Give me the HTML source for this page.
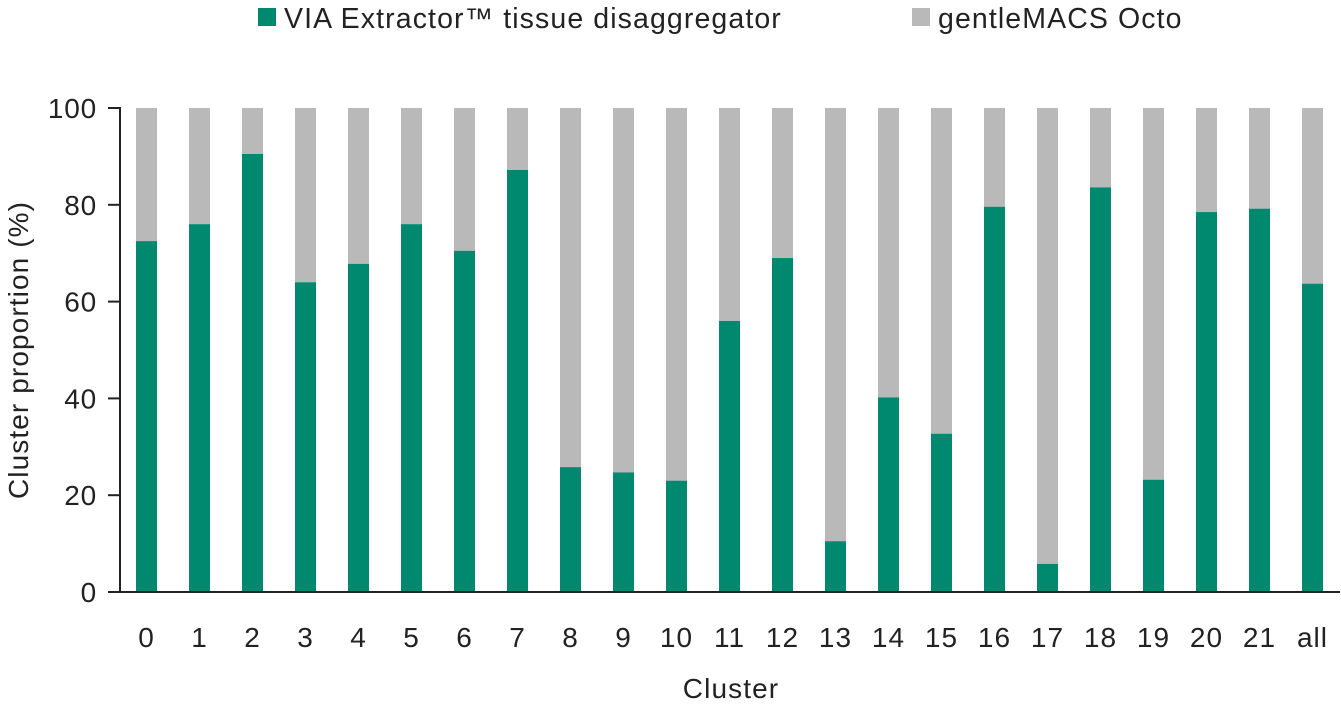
<!DOCTYPE html>
<html><head><meta charset="utf-8"><style>
body{margin:0;background:#fff;}
text{font-family:"Liberation Sans",sans-serif;fill:#222;}
.l{letter-spacing:1.1px;}
</style></head><body>
<svg width="1341" height="707" xmlns="http://www.w3.org/2000/svg">
<rect x="258" y="8" width="18" height="18" fill="#00896e"/>
<text class="l" x="284" y="28" font-size="28.5">VIA Extractor™ tissue disaggregator</text>
<rect x="912" y="8" width="18" height="18" fill="#b9b9ba"/>
<text class="l" x="938" y="28" font-size="28.5">gentleMACS Octo</text>
<g id="bars"></g>
<line x1="120" y1="107" x2="120" y2="593" stroke="#222" stroke-width="2"/>
<line x1="119" y1="592" x2="1340" y2="592" stroke="#222" stroke-width="2"/>
<g id="yt" font-size="28" text-anchor="end"></g>
<g id="xt" font-size="28" text-anchor="middle"></g>
<text class="l" x="731" y="698" font-size="28" text-anchor="middle">Cluster</text>
<text class="l" transform="translate(28,350) rotate(-90)" font-size="28" text-anchor="middle">Cluster proportion (%)</text>
</svg>
<script>
var v=[72.5,76,90.5,64,67.8,76,70.5,87.2,25.8,24.7,23,56,69,10.5,40.2,32.7,79.6,5.8,83.6,23.2,78.5,79.2,63.7];
var ns="http://www.w3.org/2000/svg",b=document.getElementById("bars"),xt=document.getElementById("xt"),yt=document.getElementById("yt");
function el(t,a,p,txt){var e=document.createElementNS(ns,t);for(var k in a)e.setAttribute(k,a[k]);if(txt!=null)e.textContent=txt;p.appendChild(e);}
v.forEach(function(d,i){var x=136+i*53,yv=592-d*4.84;
el("rect",{x:x,y:108,width:21,height:yv-108,fill:"#b9b9ba"},b);
el("rect",{x:x,y:yv,width:21,height:592-yv,fill:"#00896e"},b);
el("text",{x:x+10.5,y:647,"letter-spacing":"1px"},xt,i<22?String(i):"all");});
for(var i=0;i<=5;i++){var y=592-i*96.8;el("line",{x1:108,y1:y,x2:120,y2:y,stroke:"#222","stroke-width":2},yt);
el("text",{x:97,y:y+10,"letter-spacing":"0.8px"},yt,String(i*20));}
</script>
</body></html>
